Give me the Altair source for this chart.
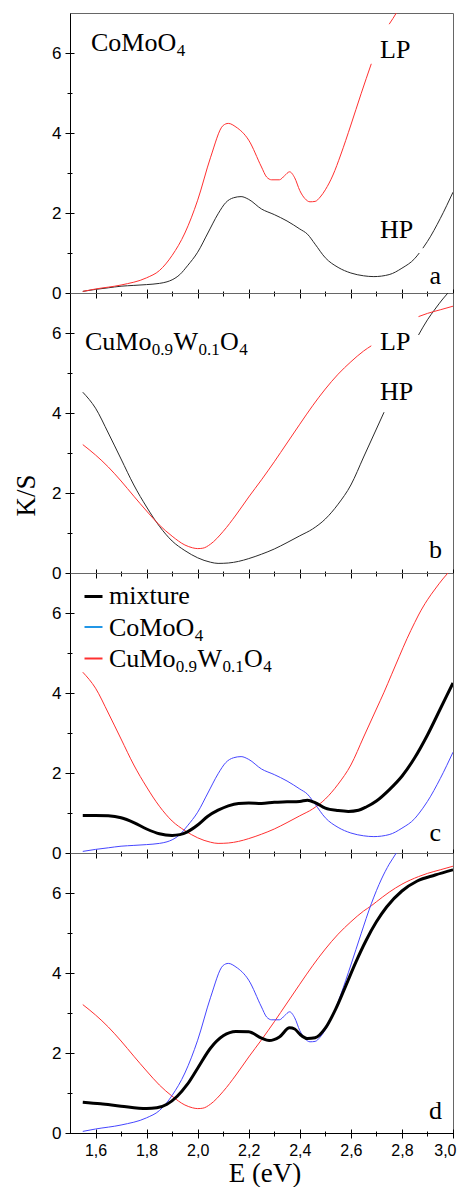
import altair as alt
import pandas as pd

# ---------------- data ----------------
# CoMoO4, low pressure (LP)
E_LP_CO = [1.55, 1.60, 1.70, 1.80, 1.85, 1.90, 1.95, 2.00, 2.05, 2.10, 2.12, 2.15, 2.20, 2.25,
           2.27, 2.29, 2.32, 2.34, 2.36, 2.38, 2.40, 2.42, 2.44, 2.46, 2.48, 2.50, 2.53, 2.56,
           2.60, 2.64, 2.68, 2.72, 2.75, 2.78, 2.80]
K_LP_CO = [0.04, 0.10, 0.20, 0.38, 0.56, 0.94, 1.50, 2.32, 3.38, 4.19, 4.24, 4.15, 3.82, 3.15,
           2.90, 2.83, 2.83, 2.93, 3.03, 2.88, 2.56, 2.36, 2.28, 2.29, 2.40, 2.58, 2.95, 3.45,
           4.20, 4.98, 5.73, 6.35, 6.72, 7.02, 7.25]

# CoMoO4, high pressure (HP)
E_HP_CO = [1.55, 1.60, 1.65, 1.70, 1.75, 1.80, 1.85, 1.88, 1.90, 1.93, 1.96, 2.00, 2.04, 2.08,
           2.11, 2.14, 2.17, 2.20, 2.25, 2.30, 2.35, 2.40, 2.43, 2.46, 2.50, 2.55, 2.60, 2.65,
           2.69, 2.75, 2.80, 2.85, 2.868, 2.882, 2.90, 2.95, 3.00]
K_HP_CO = [0.04, 0.09, 0.13, 0.17, 0.19, 0.21, 0.24, 0.28, 0.33, 0.46, 0.68, 1.02, 1.50, 1.98,
           2.26, 2.38, 2.41, 2.34, 2.10, 1.96, 1.80, 1.60, 1.47, 1.22, 0.88, 0.64, 0.50, 0.43,
           0.41, 0.46, 0.62, 0.86, 1.00, 1.12, 1.29, 1.86, 2.52]

# CuMo0.9W0.1O4, low pressure (LP)
E_LP_CU = [1.55, 1.60, 1.65, 1.70, 1.75, 1.80, 1.85, 1.90, 1.95, 1.98, 2.00, 2.02, 2.05, 2.10,
           2.15, 2.20, 2.25, 2.30, 2.35, 2.40, 2.45, 2.50, 2.55, 2.60, 2.65, 2.68, 2.70, 2.75,
           2.80, 2.865, 2.90, 2.95, 3.00]
K_LP_CU = [3.21, 2.95, 2.65, 2.30, 1.92, 1.55, 1.20, 0.92, 0.70, 0.63, 0.61, 0.62, 0.72, 1.04,
           1.45, 1.90, 2.33, 2.78, 3.25, 3.72, 4.18, 4.60, 4.97, 5.28, 5.55, 5.68, 5.78, 6.02,
           6.22, 6.41, 6.49, 6.58, 6.67]

# CuMo0.9W0.1O4, high pressure (HP)
E_HP_CU = [1.55, 1.60, 1.65, 1.70, 1.75, 1.80, 1.85, 1.90, 1.95, 2.00, 2.05, 2.08, 2.12, 2.16,
           2.20, 2.25, 2.30, 2.35, 2.40, 2.45, 2.50, 2.55, 2.60, 2.65, 2.70, 2.73, 2.76, 2.79,
           2.82, 2.85, 2.865, 2.90, 2.93, 2.96, 2.98, 3.00]
K_HP_CU = [4.52, 4.12, 3.50, 2.85, 2.20, 1.65, 1.17, 0.80, 0.56, 0.38, 0.27, 0.24, 0.25, 0.29,
           0.36, 0.47, 0.60, 0.76, 0.93, 1.10, 1.35, 1.72, 2.20, 2.90, 3.60, 4.02, 4.47, 4.92,
           5.36, 5.76, 5.95, 6.33, 6.60, 6.85, 7.00, 7.15]

# mixture, HP (panel c)
E_MIX_HP = [1.55, 1.60, 1.65, 1.70, 1.75, 1.80, 1.85, 1.90, 1.93, 1.96, 2.00, 2.04, 2.08, 2.12,
            2.16, 2.20, 2.25, 2.30, 2.35, 2.40, 2.43, 2.46, 2.50, 2.55, 2.59, 2.63, 2.66, 2.70,
            2.75, 2.80, 2.85, 2.90, 2.95, 3.00]
K_MIX_HP = [0.94, 0.94, 0.93, 0.88, 0.76, 0.60, 0.48, 0.44, 0.46, 0.53, 0.70, 0.92, 1.07, 1.18,
            1.24, 1.25, 1.24, 1.27, 1.28, 1.29, 1.32, 1.26, 1.12, 1.06, 1.04, 1.07, 1.15, 1.30,
            1.58, 1.92, 2.38, 2.95, 3.60, 4.25]

# mixture, LP (panel d)
E_MIX_LP = [1.55, 1.62, 1.70, 1.80, 1.84, 1.88, 1.92, 1.96, 2.00, 2.05, 2.10, 2.15, 2.20, 2.25,
            2.28, 2.32, 2.36, 2.38, 2.40, 2.43, 2.46, 2.50, 2.54, 2.58, 2.62, 2.66, 2.70, 2.74,
            2.80, 2.86, 2.93, 3.00]
K_MIX_LP = [0.77, 0.73, 0.67, 0.61, 0.63, 0.72, 0.92, 1.22, 1.62, 2.12, 2.43, 2.54, 2.53, 2.37,
            2.31, 2.40, 2.63, 2.60, 2.47, 2.36, 2.38, 2.62, 3.09, 3.68, 4.28, 4.82, 5.28, 5.65,
            6.05, 6.30, 6.45, 6.58]

X_MAJOR = [1.6, 1.8, 2.0, 2.2, 2.4, 2.6, 2.8, 3.0]
X_MINOR = [1.7, 1.9, 2.1, 2.3, 2.5, 2.7, 2.9]
Y_MAJOR = [0, 2, 4, 6]
Y_MINOR = [1, 3, 5]

RED = "#ff3030"
DARK = "#2a2a2a"
BLUE = "#4646ff"
BLACK = "#000000"
LEG_BLUE = "#2196e6"

W, H = 383, 280
SERIF = "Liberation Serif"
SANS = "Liberation Sans"

xscale = alt.Scale(domain=[1.5, 3.0], nice=False, zero=False)
yscale = alt.Scale(domain=[0, 7], nice=False)

TIMES = {'C': .667, 'u': .5, 'M': .889, 'o': .5, 'W': .944, 'O': .722,
         '0': .5, '1': .5, '4': .5, '9': .5, '.': .25}

# an invisible anchor point for the axis-only layers (inside the domain)
ANCHOR = pd.DataFrame({"x": [2.0], "y": [1.0]})


def segments(xs, ys, gaps):
    rows = []
    for x, y in zip(xs, ys):
        seg, skip = 0, False
        for lo, hi in gaps:
            if lo < x < hi:
                skip = True
            elif x >= hi:
                seg += 1
        if not skip:
            rows.append({"x": x, "y": y, "seg": seg})
    return pd.DataFrame(rows)


def txt(s, x, y, size=26, font=SERIF, align="left", baseline="alphabetic"):
    return alt.Chart(alt.Data(values=[{}])).mark_text(
        text=s, font=font, fontSize=size, align=align, baseline=baseline, color="black"
    ).encode(x=alt.value(x), y=alt.value(y))


def formula(parts, x0, base, fs=26, sfs=17, drop=5.3):
    out, x = [], x0
    for s, sub in parts:
        f = sfs if sub else fs
        out.append(txt(s, x, base + (drop if sub else 0), size=f))
        x += sum(TIMES[c] for c in s) * f + 0.4
    return out


def legend_rule(x1, x2, y, color, w):
    return alt.Chart(alt.Data(values=[{}])).mark_rule(color=color, strokeWidth=w).encode(
        x=alt.value(x1), x2=alt.value(x2), y=alt.value(y))


def axis_layer(xaxis, yaxis):
    return alt.Chart(ANCHOR).mark_point(opacity=0, size=1, clip=True).encode(
        x=alt.X("x:Q", scale=xscale, axis=alt.Axis(**xaxis)),
        y=alt.Y("y:Q", scale=yscale, axis=alt.Axis(**yaxis)),
    )


def panel(series, extras, last=False, ks=False):
    layers = []
    for xs, ys, color, width, gaps in series:
        df = segments(xs, ys, gaps)
        layers.append(
            alt.Chart(df).mark_line(clip=True, interpolate="monotone", color=color,
                                    strokeWidth=width).encode(
                x=alt.X("x:Q", scale=xscale, axis=None),
                y=alt.Y("y:Q", scale=yscale, axis=None),
                detail="seg:N",
            )
        )
    # major ticks (crossing the frame)
    major = axis_layer(
        dict(orient="bottom", values=X_MAJOR, offset=-4, tickSize=9, domain=False, grid=False,
             labels=last, labelExpr="replace(format(datum.value, '.1f'), '.', ',')",
             labelFont=SANS, labelFontSize=16, labelPadding=4, labelColor="black",
             labelFlush=True, labelFlushOffset=3, tickColor="black", title=None),
        dict(orient="left", values=Y_MAJOR, offset=-4, tickSize=9, domain=False, grid=False,
             labelFont=SANS, labelFontSize=17, labelPadding=4, labelColor="black",
             labelFlush=False, tickColor="black", title=None),
    )
    minor = axis_layer(
        dict(orient="bottom", values=X_MINOR, offset=-2, tickSize=5, domain=False, grid=False,
             labels=False, tickColor="black", title=None),
        dict(orient="left", values=Y_MINOR, offset=-2, tickSize=5, domain=False, grid=False,
             labels=False, tickColor="black", title=None),
    )
    xdom = dict(orient="bottom", values=[], domain=True, domainColor="black", ticks=False,
                labels=False, grid=False)
    if last:
        xdom.update(title="E (eV)", titleFont=SERIF, titleFontSize=27, titleFontWeight="normal",
                    titleColor="black", titleBaseline="alphabetic", titleY=48.5,
                    titleX=W / 2 + 3)
    else:
        xdom.update(title=None)
    ydom = dict(orient="left", values=[], domain=True, domainColor="black", ticks=False,
                labels=False, grid=False)
    if ks:
        ydom.update(title="K/S", titleFont=SERIF, titleFontSize=27, titleFontWeight="normal",
                    titleColor="black", titleAngle=270, titleAlign="center",
                    titleBaseline="middle", titleX=-44, titleY=202)
    else:
        ydom.update(title=None)
    dom = axis_layer(xdom, ydom)
    ch = alt.layer(*layers, major, minor, dom, *extras).resolve_axis(
        x="independent", y="independent").properties(width=W, height=H)
    return ch


# ---------- panel a ----------
extras_a = formula([("CoMoO", False), ("4", True)], 21, 38) + [
    txt("LP", 310, 45), txt("HP", 310, 225), txt("a", 371, 271, align="right")]
pa = panel([
    (E_HP_CO, K_HP_CO, DARK, 1, [(2.868, 2.882)]),
    (E_LP_CO, K_LP_CO, RED, 1, [(2.68, 2.75)]),
], extras_a)

# ---------- panel b ----------
extras_b = formula([("CuMo", False), ("0.9", True), ("W", False), ("0.1", True),
                    ("O", False), ("4", True)], 15, 57) + [
    txt("LP", 310, 57), txt("HP", 310, 107), txt("b", 372, 265, align="right")]
pb = panel([
    (E_HP_CU, K_HP_CU, DARK, 1, [(2.73, 2.865)]),
    (E_LP_CU, K_LP_CU, RED, 1, [(2.68, 2.865)]),
], extras_b, ks=True)

# ---------- panel c ----------
extras_c = [
    legend_rule(14.5, 32.5, 23.5, BLACK, 3),
    legend_rule(14.5, 32.5, 54, LEG_BLUE, 2),
    legend_rule(14.5, 32.5, 85.5, RED, 2),
    txt("mixture", 39, 30.5),
] + formula([("CoMoO", False), ("4", True)], 39, 62.5) + formula(
    [("CuMo", False), ("0.9", True), ("W", False), ("0.1", True), ("O", False), ("4", True)],
    39, 94) + [txt("c", 371, 268, align="right")]
pc = panel([
    (E_HP_CU, K_HP_CU, RED, 1, []),
    (E_HP_CO, K_HP_CO, BLUE, 1, []),
    (E_MIX_HP, K_MIX_HP, BLACK, 3, []),
], extras_c)

# ---------- panel d ----------
extras_d = [txt("d", 372, 266, align="right")]
pd_ = panel([
    (E_LP_CU, K_LP_CU, RED, 1, []),
    (E_LP_CO, K_LP_CO, BLUE, 1, []),
    (E_MIX_LP, K_MIX_LP, BLACK, 3, []),
], extras_d, last=True)

chart = alt.vconcat(pa, pb, pc, pd_, spacing=0, bounds="flush").properties(
    padding={"left": 3, "top": 4, "right": 0, "bottom": 0},
    background="white",
).configure_view(stroke="#666666", strokeWidth=1)

chart.save("out.html", embed_options={"renderer": "svg", "actions": False})
